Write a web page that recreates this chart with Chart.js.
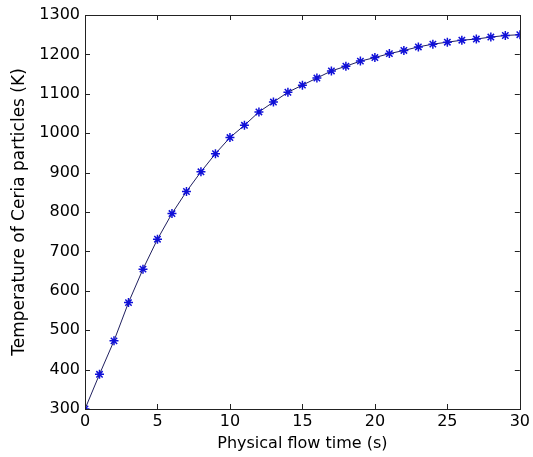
<!DOCTYPE html>
<html lang="en">
  <head>
    <meta charset="UTF-8" />
    <title>Ceria particle temperature</title>
    <script src="https://cdn.jsdelivr.net/npm/chart.js@4.4.0/dist/chart.umd.min.js"></script>
    <style>
      html, body { margin: 0; padding: 0; background: #fff; }
      #wrap { width: 533px; height: 457px; }
    </style>
  </head>
  <body>
    <div id="wrap"><canvas id="chart" width="533" height="457"></canvas></div>
    <script>
      // flow time (s) and particle temperature (K)
      const times = [0, 1, 2, 3, 4, 5, 6, 7, 8, 9, 10, 11, 12, 13, 14, 15,
        16, 17, 18, 19, 20, 21, 22, 23, 24, 25, 26, 27, 28, 29, 30]
      const temps = [300, 388, 473, 570, 655, 731, 796, 852, 902, 948, 989,
        1020, 1054, 1079, 1104, 1122, 1140, 1158, 1170, 1183, 1192, 1202,
        1210, 1219, 1226, 1231, 1236, 1239, 1244, 1248, 1250]
      const xTicks = [0, 5, 10, 15, 20, 25, 30]
      const yTicks = [300, 400, 500, 600, 700, 800, 900, 1000, 1100, 1200, 1300]

      const points = times.map((t, i) => ({ x: t, y: temps[i] }))

      // matlab style box with inward ticks on all sides
      const boxTicks = {
        id: 'boxTicks',
        afterDraw(chart) {
          const { ctx, chartArea: a, scales } = chart
          ctx.save()
          ctx.strokeStyle = '#222'
          ctx.lineWidth = 1
          ctx.beginPath()
          xTicks.forEach((v) => {
            const px = Math.round(scales.x.getPixelForValue(v)) + 0.5
            ctx.moveTo(px, a.bottom); ctx.lineTo(px, a.bottom - 5)
            ctx.moveTo(px, a.top); ctx.lineTo(px, a.top + 5)
          })
          yTicks.forEach((v) => {
            const py = Math.round(scales.y.getPixelForValue(v)) + 0.5
            ctx.moveTo(a.left, py); ctx.lineTo(a.left + 5, py)
            ctx.moveTo(a.right, py); ctx.lineTo(a.right - 5, py)
          })
          ctx.stroke()
          ctx.strokeRect(Math.round(a.left) + 0.5, Math.round(a.top) + 0.5,
            Math.round(a.right - a.left), Math.round(a.bottom - a.top))
          ctx.restore()
        },
      }

      const font = { family: 'DejaVu Sans, sans-serif', size: 16 }

      new Chart(document.getElementById('chart'), {
        type: 'scatter',
        data: {
          datasets: [
            {
              data: points,
              showLine: true,
              borderColor: '#202060',
              borderWidth: 1,
              pointStyle: 'star',
              pointRadius: 4.5,
              pointBorderColor: '#1010d8',
              pointBorderWidth: 1.5,
              pointBackgroundColor: '#1010d8',
            },
          ],
        },
        options: {
          responsive: false,
          animation: false,
          layout: { padding: { top: 15, right: 11, left: 0, bottom: 0 } },
          plugins: { legend: { display: false }, tooltip: { enabled: false } },
          scales: {
            x: {
              type: 'linear',
              min: 0,
              max: 30,
              afterBuildTicks: (s) => { s.ticks = xTicks.map((v) => ({ value: v })) },
              afterFit: (s) => { s.height = 48 },
              grid: { display: false, drawTicks: false },
              border: { display: false },
              ticks: { color: '#000', font, padding: 3, maxRotation: 0 },
              title: { display: true, text: 'Physical flow time (s)', color: '#000', font, padding: { top: 0, bottom: 4 } },
            },
            y: {
              min: 300,
              max: 1300,
              afterBuildTicks: (s) => { s.ticks = yTicks.map((v) => ({ value: v })) },
              afterFit: (s) => { s.width = 85 },
              grid: { display: false, drawTicks: false },
              border: { display: false },
              ticks: { color: '#000', font, padding: 5, callback: (v) => String(v) },
              title: { display: true, text: 'Temperature of Ceria particles (K)', color: '#000', font: { ...font, size: 17 }, padding: { top: 9, bottom: 0 } },
            },
          },
        },
        plugins: [boxTicks],
      })
    </script>
  </body>
</html>
